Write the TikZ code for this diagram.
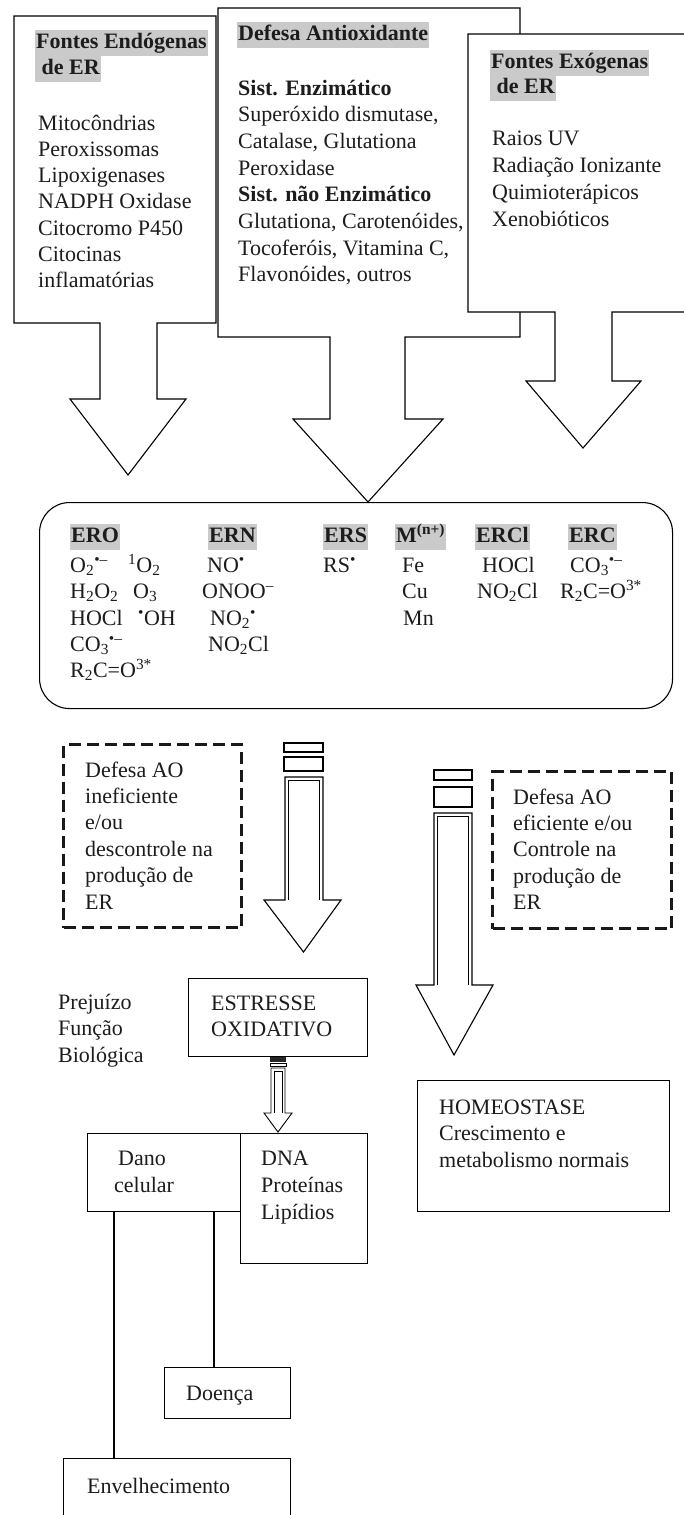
\documentclass[tikz,border=0pt]{standalone}
\usepackage{fontspec}
\setmainfont{Liberation Serif}
\definecolor{hlgray}{RGB}{202,202,202}
\definecolor{ink}{RGB}{28,28,28}
\begin{document}
\begin{tikzpicture}[x=1pt,y=-1pt,
  every node/.style={font=\fontsize{22}{26}\selectfont, text=ink},
  txt/.style={anchor=base west, inner sep=0pt},
  hl/.style={anchor=base west, fill=hlgray, inner xsep=1pt, inner ysep=1.5pt, text height=17pt, text depth=6pt, font=\fontsize{22}{26}\selectfont\bfseries},
  calloutbox/.style={draw=black, line width=1.1pt, fill=white, line join=miter},
  boxframe/.style={draw=black, line width=1.1pt, inner sep=0pt, anchor=north west},
  dashframe/.style={draw=black!90, line width=3pt, dash pattern=on 12pt off 6pt, inner sep=0pt, anchor=north west},
  conn/.style={draw=black, line width=1.1pt},
  stripearrow/.style={draw=black, line width=1.1pt, fill=white, line join=miter},
  innerline/.style={draw=black, line width=0.6pt}]

\clip (0,0) rectangle (684,1515);
\fill[white] (0,0) rectangle (684,1515);

% ---------- Box 1: Fontes Endogenas ----------
\draw[calloutbox] (14,16) -- (216,16) -- (216,323) -- (157,323) -- (157,399) -- (186,399)
  -- (128,475) -- (70,399) -- (100,399) -- (100,323) -- (14,323) -- cycle;
\node[hl] (h1a) at (35,48) {Fontes Endógenas};
\node[hl] (h1b) at (35,74.5) {\ de ER};
\foreach \t [count=\i from 0] in {Mitocôndrias,Peroxissomas,Lipoxigenases,NADPH Oxidase,Citocromo P450,Citocinas,inflamatórias}
  \node[txt] (e\i) at (38,130+26.3*\i) {\t};

% ---------- Box 2: Defesa Antioxidante ----------
\draw[calloutbox] (218,8) -- (520,8) -- (520,337) -- (405,337) -- (405,419) -- (443,419)
  -- (368,502) -- (293,419) -- (330,419) -- (330,337) -- (218,337) -- cycle;
\node[hl] (h2) at (237,40) {Defesa Antioxidante};
\foreach \t [count=\i from 0] in {{\bfseries Sist. Enzimático},{Superóxido dismutase,},{Catalase, Glutationa},Peroxidase,{\bfseries Sist. não Enzimático},{Glutationa, Carotenóides,},{Tocoferóis, Vitamina C,},{Flavonóides, outros}}
  \node[txt] (d\i) at (238,95+26.7*\i) {\t};

% ---------- Box 3: Fontes Exogenas ----------
\draw[calloutbox] (468,34) -- (700,34) -- (700,312) -- (612,312) -- (612,381) -- (641,381)
  -- (583,448) -- (526,381) -- (555,381) -- (555,312) -- (468,312) -- cycle;
\node[hl] (h3a) at (490,68) {Fontes Exógenas};
\node[hl] (h3b) at (490,93.5) {\ de ER};
\foreach \t [count=\i from 0] in {Raios UV,Radiação Ionizante,Quimioterápicos,Xenobióticos}
  \node[txt] (x\i) at (492,145+27.2*\i) {\t};

% ---------- ER box ----------
\node[boxframe, rounded corners=30pt, minimum width=633pt, minimum height=206pt] (erbox) at (39,502) {};
\node[hl] (hero) at (70,542) {ERO};
\node[hl] (hern) at (208,542) {ERN};
\node[hl] (hers) at (323,542) {ERS};
\node[hl] (hm) at (395,542) {M\textsuperscript{(n+)}};
\node[hl] (hercl) at (475,542) {ERCl\hspace{11pt}};
\node[hl] (herc) at (568,542) {ERC};

\node[txt] (o1) at (70,572) {O\textsubscript{2}\textsuperscript{•–}};
\node[txt] (o1b) at (128,572) {\textsuperscript{1}O\textsubscript{2}};
\node[txt] (o2) at (70,598) {H\textsubscript{2}O\textsubscript{2}};
\node[txt] (o2b) at (133,598) {O\textsubscript{3}};
\node[txt] (o3) at (70,625) {HOCl};
\node[txt] (o3b) at (138,625) {\textsuperscript{•}OH};
\node[txt] (o4) at (70,651) {CO\textsubscript{3}\textsuperscript{•–}};
\node[txt] (o5) at (70,677) {R\textsubscript{2}C=O\textsuperscript{3*}};

\node[txt] (n1) at (207,572) {NO\textsuperscript{•}};
\node[txt] (n2) at (202,598) {ONOO\textsuperscript{–}};
\node[txt] (n3) at (210,625) {NO\textsubscript{2}\textsuperscript{•}};
\node[txt] (n4) at (208,651) {NO\textsubscript{2}Cl};

\node[txt] (s1) at (323,572) {RS\textsuperscript{•}};

\node[txt] (m1) at (402,572) {Fe};
\node[txt] (m2) at (402,598) {Cu};
\node[txt] (m3) at (403,625) {Mn};

\node[txt] (cl1) at (482,572) {HOCl};
\node[txt] (cl2) at (477,598) {NO\textsubscript{2}Cl};

\node[txt] (c1) at (570,572) {CO\textsubscript{3}\textsuperscript{•–}};
\node[txt] (c2) at (560,598) {R\textsubscript{2}C=O\textsuperscript{3*}};

% ---------- dashed boxes ----------
\node[dashframe, minimum width=178pt, minimum height=183pt] (dleft) at (62,743) {};
\foreach \t [count=\i from 0] in {Defesa AO,ineficiente,e/ou,descontrole na,produção de,ER}
  \node[txt] (l\i) at (85,777+26.4*\i) {\t};
\node[dashframe, minimum width=179pt, minimum height=157pt] (dright) at (491,770) {};
\foreach \t [count=\i from 0] in {Defesa AO,eficiente e/ou,Controle na,produção de,ER}
  \node[txt] (r\i) at (513,804+26.4*\i) {\t};

% ---------- striped arrow (left) ----------
\draw[stripearrow] (284,743) rectangle (323,752);
\draw[stripearrow] (284,757) rectangle (323,771);
\draw[stripearrow] (285,777) -- (285,900) -- (264,900) -- (303.5,952) -- (341,900) -- (323,900) -- (323,777) -- cycle;
\draw[innerline] (288.5,900) -- (288.5,780.5) -- (319.5,780.5) -- (319.5,900);

% ---------- striped arrow (right) ----------
\draw[stripearrow] (434,770) rectangle (472,780);
\draw[stripearrow] (434,787) rectangle (472,807);
\draw[stripearrow] (434,813) -- (434,985) -- (416,985) -- (454,1055) -- (493,985) -- (472,985) -- (472,813) -- cycle;
\draw[innerline] (437.5,985) -- (437.5,816.5) -- (468.5,816.5) -- (468.5,985);

% ---------- lower boxes ----------
\node[boxframe, minimum width=179pt, minimum height=78pt] (estresse) at (188,978) {};
\node[txt] (es1) at (211,1010) {ESTRESSE};
\node[txt] (es2) at (211,1036) {OXIDATIVO};

\node[txt] (p1) at (58,1009) {Prejuízo};
\node[txt] (p2) at (58,1035) {Função};
\node[txt] (p3) at (58,1062) {Biológica};

% small striped arrow
\fill[black!85] (270,1056.5) rectangle (286,1061.5);
\draw[stripearrow, line width=0.9pt] (270,1063) rectangle (286,1066);
\draw[stripearrow, line width=0.9pt] (271,1068) -- (271,1113) -- (264,1113) -- (278,1132) -- (292,1113) -- (285,1113) -- (285,1068) -- cycle;
\draw[innerline, line width=0.5pt] (274,1113) -- (274,1071) -- (282,1071) -- (282,1113);

\node[boxframe, minimum width=153pt, minimum height=78pt] (dano) at (87,1133) {};
\node[txt] (da1) at (118,1165) {Dano};
\node[txt] (da2) at (114,1192) {celular};

\node[boxframe, minimum width=127pt, minimum height=130pt] (dna) at (240,1133) {};
\node[txt] (dn1) at (261,1165) {DNA};
\node[txt] (dn2) at (261,1192) {Proteínas};
\node[txt] (dn3) at (261,1219) {Lipídios};

\node[boxframe, minimum width=252pt, minimum height=131pt] (homeo) at (417,1080) {};
\node[txt] (ho1) at (439,1114) {HOMEOSTASE};
\node[txt] (ho2) at (439,1140) {Crescimento e};
\node[txt] (ho3) at (439,1167) {metabolismo normais};

\node[boxframe, minimum width=126pt, minimum height=51pt] (doenca) at (164,1367) {};
\node[txt] (doe) at (186,1400) {Doença};

\node[boxframe, minimum width=227pt, minimum height=90pt] (envel) at (63,1458) {};
\node[txt] (env) at (87,1493) {Envelhecimento};

\draw[conn] ([xshift=27pt]dano.south west) -- ([xshift=27pt]dano.south west |- envel.north);
\draw[conn] ([xshift=127pt]dano.south west) -- ([xshift=127pt]dano.south west |- doenca.north);
\end{tikzpicture}
\end{document}
